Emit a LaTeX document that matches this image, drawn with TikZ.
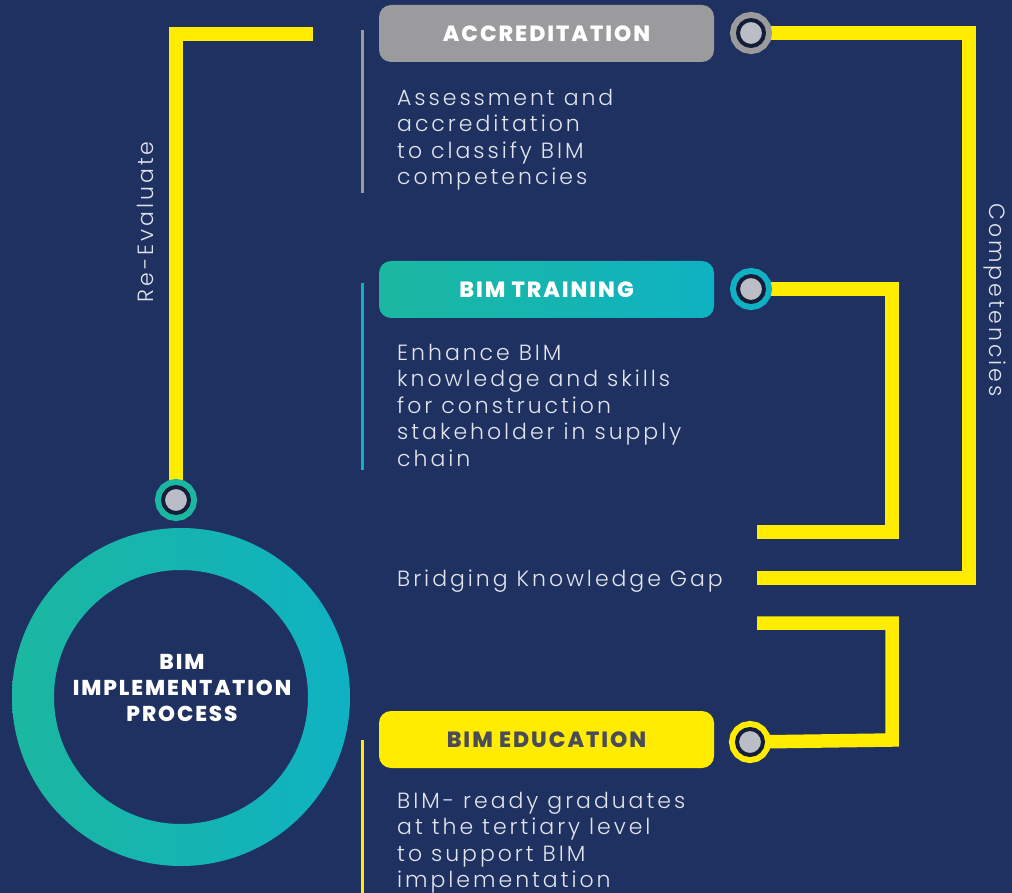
\documentclass[tikz,border=0pt]{standalone}
\usepackage{fontspec}
\setmainfont{Poppins}
\newfontfamily\lightfont[LetterSpace=13.5]{Poppins Light}
\newfontfamily\headfont[LetterSpace=9]{Poppins ExtraBold}
\usetikzlibrary{backgrounds}

\definecolor{navy}{RGB}{31,49,97}
\definecolor{linkyellow}{RGB}{255,236,0}
\definecolor{accgray}{RGB}{155,155,157}
\definecolor{trainteal}{RGB}{27,183,160}
\definecolor{traincyan}{RGB}{15,178,194}
\definecolor{dotgray}{RGB}{186,189,197}
\definecolor{dotdark}{RGB}{20,30,58}
\definecolor{txtlight}{RGB}{226,229,237}
\definecolor{edutext}{RGB}{74,76,90}

\tikzset{
  link/.style={linkyellow, line width=13.5pt, line join=miter},
  box/.style={rounded corners=12pt, minimum width=335pt, minimum height=57pt,
    text=white, font=\headfont\fontsize{22}{22}\selectfont},
  dot/.style={circle, minimum size=26pt, inner sep=0pt, fill=dotgray, draw=dotdark,
    line width=4pt, preaction={draw=#1, line width=16pt}},
  desc/.style={anchor=north west, align=left, inner sep=0pt, text=txtlight,
    font=\lightfont\fontsize{22}{26.5}\selectfont},
}

\begin{document}
\begin{tikzpicture}[x=1pt, y=-1pt]
    \useasboundingbox (0,0) rectangle (1012,893);

    % Boxes
    \node[box, fill=accgray] (acc) at (546.5,33.5) {ACCREDITATION};
    \node[box, left color=trainteal, right color=traincyan] (train) at (546.5,289.5) {BIM TRAINING};
    \node[box, fill=linkyellow, text=edutext] (edu) at (546.5,739.5) {BIM EDUCATION};

    % Descriptions
    \node[desc] (accdesc) at (397,89) {Assessment and\\accreditation\\to classify BIM\\competencies};
    \node[desc] (traindesc) at (397,344) {Enhance BIM\\knowledge and skills\\for construction\\stakeholder in supply\\chain};
    \node[desc] (edudesc) at (397,792) {BIM- ready graduates\\at the tertiary level\\to support BIM\\implementation};
    \node[desc, anchor=west] (gap) at (397,581) {Bridging Knowledge Gap};

    % Side bars
    \draw[accgray, line width=3pt] (362,30) -- (362,193);
    \draw[traincyan, line width=3pt] (362,283) -- (362,470);
    \draw[linkyellow, line width=3pt] (362,740) -- (362,893);

    % Main ring
    \shade[left color=trainteal, right color=traincyan, even odd rule]
        (181,697) circle (169) (181,697) circle (127);
    \node[align=center, text=white, font=\headfont\fontsize{21.5}{26}\selectfont] (impl) at (182,688)
        {BIM\\IMPLEMENTATION\\PROCESS};

    % Dots
    \node[dot=accgray] (accdot) at (751,33) {};
    \node[dot=traincyan] (traindot) at (751,289) {};
    \node[dot=linkyellow] (edudot) at (750,742) {};
    \node[dot=trainteal] (impldot) at (176,500) {};

    % Loose ends of the links
    \coordinate (reend) at (313,34);
    \coordinate (compcorner) at (969,578);
    \coordinate (gapend) at (757,578);
    \coordinate (traincorner) at (892,532);
    \coordinate (trainend) at (757,532);
    \coordinate (eduend) at (757,623);
    \coordinate (educorner) at (892,740);

    % Side labels
    \node[rotate=90, text=txtlight, font=\lightfont\fontsize{22}{22}\selectfont] (reeval) at (145,222) {Re-Evaluate};
    \node[rotate=-90, text=txtlight, font=\lightfont\fontsize{22}{22}\selectfont] (comp) at (995,300) {Competencies};

    \begin{pgfonlayer}{background}
        \fill[navy] (0,0) rectangle (1012,893);
        % Yellow links
        \draw[link] (impldot.center) |- (reend);
        \draw[link] (accdot.center) -| (compcorner) -- (gapend);
        \draw[link] (traindot.center) -| (traincorner) -- (trainend);
        \draw[link] (eduend) -| (educorner) -- (edudot.center);
    \end{pgfonlayer}
\end{tikzpicture}
\end{document}
